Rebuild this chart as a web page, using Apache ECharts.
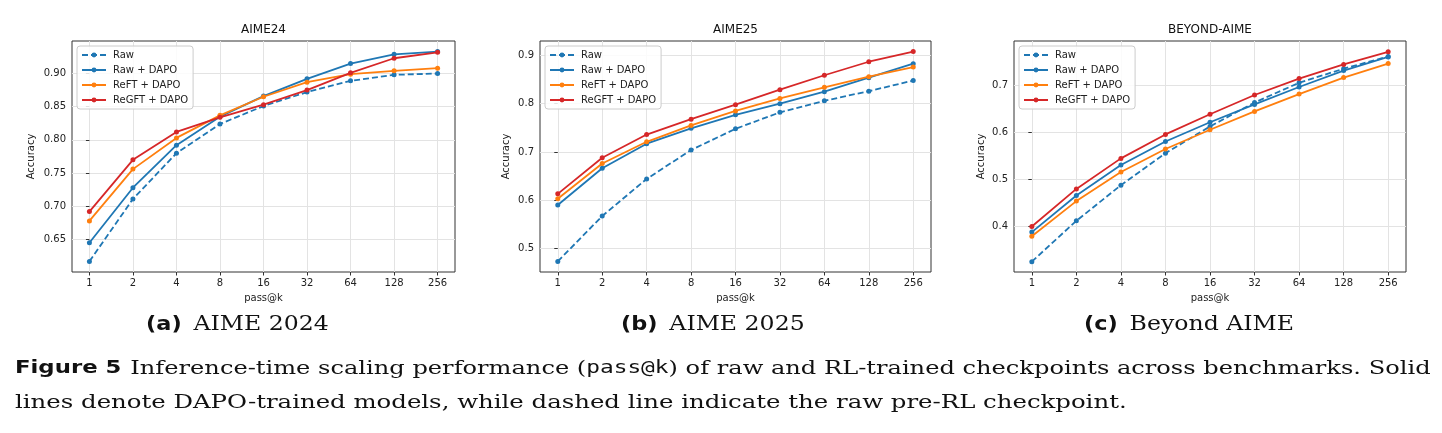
<!DOCTYPE html>
<html>
<head>
<meta charset="utf-8">
<script src="https://cdn.jsdelivr.net/npm/echarts@6/dist/echarts.min.js"></script>
<style>
html,body{margin:0;padding:0;background:#fff;}
#main{width:1442px;height:433px;}
</style>
</head>
<body>
<div id="main"></div>
<script>
// ---- data ----
const kLabels = ['1','2','4','8','16','32','64','128','256'];
const seriesNames = ['Raw','Raw + DAPO','ReFT + DAPO','ReGFT + DAPO'];

const aime24Raw     = [0.617,0.711,0.780,0.824,0.851,0.872,0.889,0.898,0.900];
const aime24RawDapo = [0.645,0.728,0.792,0.835,0.866,0.892,0.915,0.929,0.933];
const aime24Reft    = [0.678,0.756,0.803,0.837,0.865,0.887,0.899,0.904,0.908];
const aime24Regft   = [0.692,0.770,0.812,0.834,0.853,0.875,0.901,0.923,0.932];

const aime25Raw     = [0.473,0.567,0.644,0.704,0.748,0.782,0.806,0.826,0.848];
const aime25RawDapo = [0.590,0.666,0.717,0.749,0.777,0.800,0.825,0.854,0.883];
const aime25Reft    = [0.603,0.676,0.721,0.755,0.785,0.811,0.834,0.856,0.876];
const aime25Regft   = [0.613,0.688,0.736,0.768,0.798,0.829,0.859,0.887,0.908];

const beyondRaw     = [0.324,0.411,0.487,0.555,0.612,0.663,0.705,0.735,0.761];
const beyondRawDapo = [0.387,0.465,0.530,0.580,0.621,0.659,0.696,0.731,0.760];
const beyondReft    = [0.378,0.453,0.515,0.564,0.605,0.644,0.681,0.716,0.746];
const beyondRegft   = [0.399,0.479,0.544,0.595,0.638,0.679,0.714,0.744,0.771];

const yTicks24 = [0.65,0.70,0.75,0.80,0.85,0.90];
const yTicks25 = [0.5,0.6,0.7,0.8,0.9];
const yTicksBeyond = [0.4,0.5,0.6,0.7];

const panelTitles = ['AIME24','AIME25','BEYOND-AIME'];
const subCaptions = [['(a)','AIME 2024'],['(b)','AIME 2025'],['(c)','Beyond AIME']];

// ---- layout / style ----
const colors = ['#1f77b4','#1f77b4','#ff7f0e','#d62728'];
const panels = [
  {left:72,  width:383, ymin:0.601, ymax:0.949, ticks:yTicks24, dec:2, nameGap:36,
   data:[aime24Raw,aime24RawDapo,aime24Reft,aime24Regft]},
  {left:540, width:391, ymin:0.451, ymax:0.930, ticks:yTicks25, dec:1, nameGap:29,
   data:[aime25Raw,aime25RawDapo,aime25Reft,aime25Regft]},
  {left:1014,width:392, ymin:0.302, ymax:0.794, ticks:yTicksBeyond, dec:1, nameGap:28,
   data:[beyondRaw,beyondRawDapo,beyondReft,beyondRegft]}
];
const TOP = 41, HEIGHT = 231;
const FONT = 'DejaVu Sans';
const xIdx = kLabels.map((_, i) => i);

const grid = [], xAxis = [], yAxis = [], series = [], legend = [], graphic = [];
panels.forEach((p, pi) => {
  grid.push({left:p.left, top:TOP, width:p.width, height:HEIGHT, show:true,
    borderColor:'#333', borderWidth:1, backgroundColor:'transparent', containLabel:false});
  xAxis.push({type:'value', gridIndex:pi, min:-0.4, max:8.4,
    name:'pass@k', nameLocation:'middle', nameGap:21,
    nameTextStyle:{fontFamily:FONT, fontSize:10, color:'#222'},
    axisLine:{show:false},
    axisTick:{show:true, length:3.5, lineStyle:{color:'#333'}, customValues:xIdx},
    axisLabel:{fontFamily:FONT, fontSize:10, color:'#222', margin:6, customValues:xIdx,
      formatter:v => kLabels[Math.round(v)]},
    splitLine:{show:true, lineStyle:{color:'#e3e3e3', width:1}}
  });
  yAxis.push({type:'value', gridIndex:pi, min:p.ymin, max:p.ymax,
    name:'Accuracy', nameLocation:'middle', nameGap:p.nameGap, nameRotate:90,
    nameTextStyle:{fontFamily:FONT, fontSize:10, color:'#222'},
    axisLine:{show:false},
    axisTick:{show:true, length:3.5, lineStyle:{color:'#333'}, customValues:p.ticks},
    axisLabel:{fontFamily:FONT, fontSize:10, color:'#222', margin:6, customValues:p.ticks,
      formatter:v => v.toFixed(p.dec)},
    splitLine:{show:true, lineStyle:{color:'#e3e3e3', width:1}}
  });
  p.data.forEach((vals, si) => {
    series.push({type:'line', name:seriesNames[si], xAxisIndex:pi, yAxisIndex:pi,
      data: vals.map((v, i) => [i, v]),
      symbol:'circle', symbolSize:5, showSymbol:true,
      itemStyle:{color:colors[si]},
      lineStyle:{color:colors[si], width:1.8, type: si === 0 ? [6,3] : 'solid'},
      emphasis:{disabled:true}, animation:false, z: 3 + si
    });
  });
  legend.push({orient:'vertical', left:p.left + 5, top:46, itemWidth:24, itemHeight:6, itemGap:5,
    padding:[4,5,4,4], borderColor:'#cccccc', borderWidth:1, borderRadius:3,
    backgroundColor:'rgba(255,255,255,0.85)',
    textStyle:{fontFamily:FONT, fontSize:10, color:'#222', padding:[0,0,0,2]},
    data:seriesNames, selectedMode:false});
  graphic.push({type:'text', x:p.left + p.width/2, y:30,
    style:{text:panelTitles[pi], font:'12px "DejaVu Sans"', fill:'#111', textAlign:'center', textVerticalAlign:'middle'}});
});

const capX = [146, 621, 1084];
subCaptions.forEach((c, i) => {
  graphic.push({type:'text', x:capX[i], y:325, scaleX:1.18,
    style:{text:'{a|' + c[0] + '}   {b|' + c[1] + '}',
      rich:{a:{font:'bold 19px "DejaVu Sans"', fill:'#111'}, b:{font:'20px "DejaVu Serif"', fill:'#111'}},
      textAlign:'left', textVerticalAlign:'middle'}});
});
graphic.push({type:'text', x:15, y:369, scaleX:1.34,
  style:{text:'{a|Figure 5}  {b|Inference-time scaling performance (}{c|pass@k}{b|) of raw and RL-trained checkpoints across benchmarks. Solid}',
    rich:{a:{font:'bold 17px "DejaVu Sans"', fill:'#111'}, b:{font:'18px "DejaVu Serif"', fill:'#111'}, c:{font:'17px "DejaVu Sans Mono"', fill:'#111'}},
    textAlign:'left', textVerticalAlign:'middle'}});
graphic.push({type:'text', x:15, y:403, scaleX:1.355,
  style:{text:'lines denote DAPO-trained models, while dashed line indicate the raw pre-RL checkpoint.',
    font:'18px "DejaVu Serif"', fill:'#111', textAlign:'left', textVerticalAlign:'middle'}});

const chart = echarts.init(document.getElementById('main'), null, {renderer:'canvas'});
chart.setOption({animation:false, backgroundColor:'#fff', grid, xAxis, yAxis, series, legend, graphic});
</script>
</body>
</html>
